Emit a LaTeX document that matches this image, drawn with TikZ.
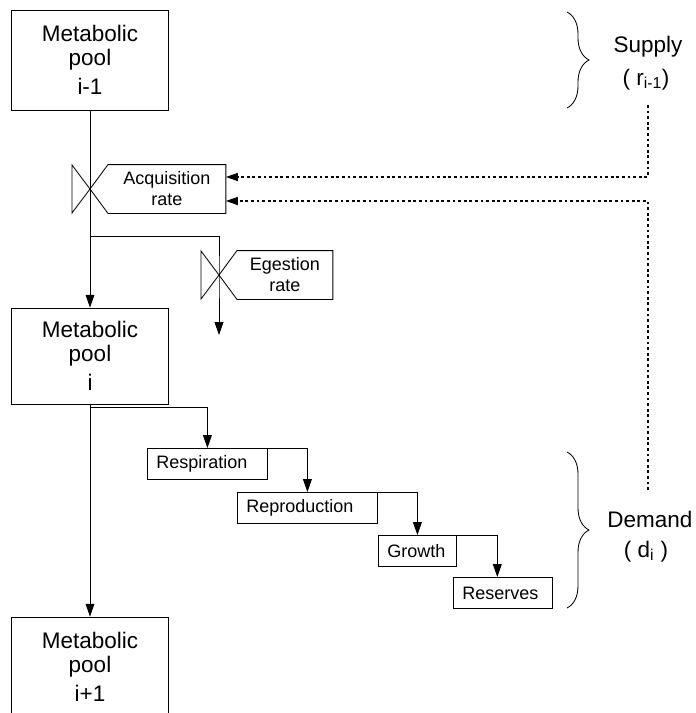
\documentclass[tikz,border=0pt]{standalone}
\usepackage{fontspec}
\setmainfont{Liberation Sans}
\usetikzlibrary{arrows.meta,decorations.pathreplacing}
% valve and its rate box: \ratevalve(centre){name}{box width}{text}
\def\ratevalve(#1)#2#3#4{
	\draw (#1) -- ++(-0.45, 0.6) -- ++(0, -1.2) -- cycle;
	\node[ratebox, minimum width=#3, anchor=west] (#2) at ([xshift=0.45cm]#1) {#4};
	\draw (#1) -- (#2.north west) -- (#2.north east) -- (#2.south east) -- (#2.south west) -- cycle;
}

\begin{document}
\begin{tikzpicture}[
	line width=0.6pt,
	pool/.style={draw, minimum width=3.925cm, minimum height=2.5cm, inner sep=0pt, align=center, font=\fontsize{16}{17}\selectfont},
	stage/.style={draw, anchor=north west, minimum height=0.775cm, inner xsep=0.225cm, inner ysep=0pt, align=left, font=\fontsize{12.8}{15}\selectfont},
	ratebox/.style={minimum height=1.2cm, inner sep=0pt, align=center, font=\fontsize{12.8}{15}\selectfont},
	tag/.style={anchor=base, font=\fontsize{16}{19}\selectfont},
	flow/.style={-{Triangle[length=0.32cm, width=0.22cm]}},
	signal/.style={line width=0.8pt, dash pattern=on 0.07cm off 0.07cm, -{Triangle[length=0.3cm, width=0.2cm]}},
	bracket/.style={decorate, decoration={brace, amplitude=0.55cm}}
	]
			%%%%% START %%%%%
			
			\useasboundingbox (0, 0) rectangle (17.4, -17.825);
			\clip (0, 0) rectangle (17.4, -17.825);
			
			\node[pool] (pool1) at (2.25, -1.5) {Metabolic\\pool\\[4pt]i-1};
			\node[pool, minimum height=2.4cm] (pool2) at (2.25, -8.9) {Metabolic\\pool\\[4pt]i};
			\node[pool] (pool3) at (2.25, -16.675) {Metabolic\\pool\\[4pt]i+1};
			
			\coordinate (acqv) at (2.25, -4.725);
			\coordinate (egbr) at (2.25, -5.9);
			\coordinate (egv) at (5.475, -6.875);
			\coordinate (egend) at (5.475, -8.375);
			
			\draw[flow] (pool1.south) -- (pool2.north);
			\draw[flow] (pool2.south) -- (pool3.north);
			\draw[flow] (egbr) -| (egv) -- (egend);
			
			\ratevalve(acqv){acq}{2.925cm}{Acquisition\\rate}
			\ratevalve(egv){eges}{2.375cm}{Egestion\\rate}
			
			\node[stage, text width=2.55cm] (resp) at (3.675, -11.2) {Respiration};
			\node[stage, text width=3.05cm] (repr) at (5.925, -12.3) {Reproduction};
			\node[stage, text width=1.5cm] (growth) at (9.45, -13.375) {Growth};
			\node[stage, text width=2.025cm] (reserves) at (11.325, -14.425) {Reserves};
			
			\draw[flow] ([yshift=-0.075cm]pool2.south) -| (resp.north);
			\draw[flow] (resp.north east) -| (repr.north);
			\draw[flow] (repr.north east) -| (growth.north);
			\draw[flow] (growth.north east) -| ([xshift=-0.14cm]reserves.north);
			
			\draw[bracket] (14.175, -0.3) -- (14.175, -2.7);
			\node[tag] (supply) at (16.2, -1.3) {Supply};
			\node[tag] (supplyr) at (16.15, -2.125) {( r\textsubscript{i-1})};
			
			\draw[bracket] (14.175, -11.3) -- (14.175, -15.2);
			\node[tag] (demand) at (16.25, -13.175) {Demand};
			\node[tag] (demandd) at (16.15, -13.925) {( d\textsubscript{i} )};
			
			\coordinate (suptap) at (16.2, -2.625);
			\coordinate (demtap) at (16.2, -12.25);
			\draw[signal] (suptap) |- ([yshift=0.3cm]acq.east);
			\draw[signal] (demtap) |- ([yshift=-0.3cm]acq.east);
			
			%%%%% END %%%%%
\end{tikzpicture}
\end{document}
